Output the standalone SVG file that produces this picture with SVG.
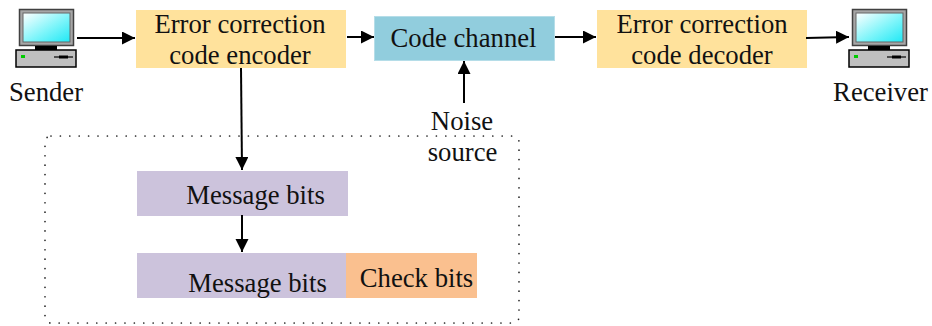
<svg xmlns="http://www.w3.org/2000/svg" width="932" height="326" viewBox="0 0 932 326">
<style>
text{font-family:"Liberation Serif","Times New Roman",serif;font-size:26.700px;fill:#111;text-anchor:middle}
.line{fill:none;stroke:#000;stroke-width:2}
.y{fill:#ffe29c}.b{fill:#91cddd;stroke:#b5dde8;stroke-width:1}.p{fill:#ccc3dc}.o{fill:#fac08f}
.mo{fill:#a6a6a6;stroke:#404040;stroke-width:1.5}.st{fill:#000}.ba{fill:#bfbfbf;stroke:#000;stroke-width:1.5}
</style>
<defs>
<linearGradient id="scr" x1="0" y1="0" x2="1" y2="1"><stop offset="0" stop-color="#fff"/><stop offset=".55" stop-color="#7ff5fa"/><stop offset="1" stop-color="#1fe8f5"/></linearGradient>
<marker id="ah" markerUnits="userSpaceOnUse" markerWidth="14" markerHeight="14" refX="13" refY="6.5" orient="auto"><path d="M0 0L13 6.5L0 13Z" fill="#000"/></marker>
<g id="pc">
<rect class="mo" x="0.5" y="0.5" width="54" height="36"/>
<rect x="4" y="4" width="47" height="29" fill="url(#scr)" stroke="#666" stroke-width="1"/>
<rect class="st" x="16" y="37" width="22" height="4"/>
<rect class="ba" x="-3" y="41" width="60" height="17"/>
<rect x="2" y="46" width="4" height="3" fill="#0c0"/>
<path d="M35 48H54" stroke="#000" stroke-width="1.2"/><path d="M40 48H49" stroke="#000" stroke-width="3"/>
</g>
</defs>
<g id="sender"><use href="#pc" x="19" y="9"/><text x="46" y="101">Sender</text></g>
<g id="encoder"><rect class="y" x="136" y="10" width="210" height="58"/><text x="240" y="33">Error correction</text><text x="240" y="64">code encoder</text></g>
<g id="channel"><rect class="b" x="374.500" y="16.500" width="180" height="44"/><text x="463.500" y="47">Code channel</text></g>
<g id="decoder"><rect class="y" x="597" y="10" width="210" height="58"/><text x="702" y="33">Error correction</text><text x="702" y="64">code decoder</text></g>
<g id="receiver"><use href="#pc" x="852" y="9"/><text x="880.500" y="101">Receiver</text></g>
<g id="noise"><text x="462" y="130">Noise</text><text x="462.500" y="161">source</text></g>
<g id="frame"><rect x="45" y="136" width="474" height="187" rx="6" fill="none" stroke="#222" stroke-width="1.700" stroke-linecap="round" stroke-dasharray="0 9.400"/></g>
<g id="msg1"><rect class="p" x="137" y="171" width="211" height="45"/><text x="255.500" y="204">Message bits</text></g>
<g id="msg2"><rect class="p" x="137" y="253" width="209" height="45"/><text x="257.500" y="292">Message bits</text></g>
<g id="check"><rect class="o" x="346" y="253" width="131" height="45"/><text x="416.500" y="287">Check bits</text></g>
<g id="connectors">
<path class="line" marker-end="url(#ah)" d="M77 38H135"/>
<path class="line" marker-end="url(#ah)" d="M347 37H374"/>
<path class="line" marker-end="url(#ah)" d="M555 37H596"/>
<path class="line" marker-end="url(#ah)" d="M806 38L849 37"/>
<path class="line" marker-end="url(#ah)" d="M464 103V61"/>
<path class="line" marker-end="url(#ah)" d="M241 68L242 170"/>
<path class="line" marker-end="url(#ah)" d="M242 215V252"/>
</g>
</svg>
